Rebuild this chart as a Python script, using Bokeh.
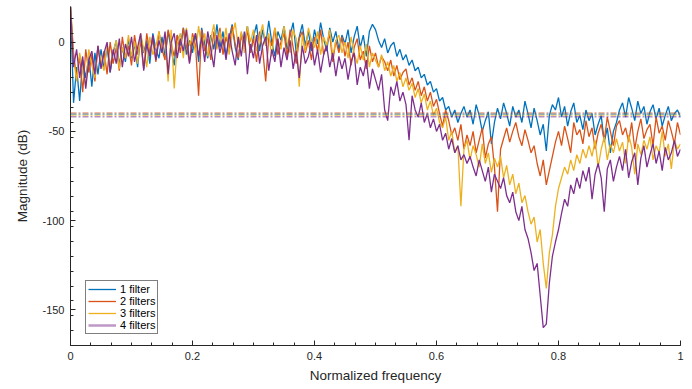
import numpy as np
from bokeh.plotting import figure
from bokeh.models import Range1d, FixedTicker, NumeralTickFormatter, Legend, LegendItem, Span
from bokeh.embed import file_html
from bokeh.resources import INLINE

# frequency grid (normalized), 201 samples
freq = np.linspace(0.0, 1.0, 201)

mag_1 = [20, -34, -14, -33, -10, -20, -8, -25, -6, -18,
         -4, -15, -2, -17, -6, 1, -13, -3, -11, 2,
         -9, -1, -14, 4, -6, 1, -12, 5, -4, -9,
         3, -8, 6, -4, -13, 4, -2, 8, -7, 1,
         -6, 5, -11, 8, -1, -9, 4, -4, 10, -3,
         6, -8, 2, 10, -3, -10, 5, -1, 9, -6,
         3, 10, -5, 7, -2, 12, 0, -8, 6, 1,
         9, -4, 4, 11, -6, 3, 10, -2, 6, -5,
         7, -1, 11, 2, -5, 8, 0, 6, -4, 4,
         -1, 7, -6, 3, 9, -3, 4, -8, 6, 10,
         7, 1, -3, 2, -6, -2, 0, -8, -4, -10,
         -7, -13, -10, -16, -14, -20, -18, -24, -22, -28,
         -26, -33, -31, -38, -36, -42, -38, -45, -40, -36,
         -42, -38, -46, -35, -41, -50, -44, -39, -57, -45,
         -37, -43, -34, -40, -47, -36, -42, -38, -45, -33,
         -40, -48, -37, -44, -52, -46, -61, -41, -35, -38,
         -31, -42, -36, -47, -39, -34, -45, -41, -49, -38,
         -44, -40, -52, -46, -41, -56, -48, -62, -50, -45,
         -38, -34, -42, -31, -37, -44, -33, -40, -36, -46,
         -39, -35, -43, -37, -47, -41, -36, -44, -40, -38,
         -42]

mag_2 = [20, -6, -20, -8, -28, -4, -17, -7, -22, -2,
         -14, -5, -18, 0, -12, -3, -16, 3, -9, -2,
         -13, 4, -7, 0, -15, 5, -6, 2, -11, 6,
         -4, -10, 7, -1, -8, 4, -6, 8, -2, -11,
         5, -2, -30, 7, -5, 2, -10, 6, -3, 8,
         -7, 3, -4, 9, -1, -9, 4, -3, 7, -6,
         2, -11, 6, -4, -22, 3, -2, 8, -7, 0,
         5, -8, 7, -3, -12, 2, 6, -6, 1, -10,
         3, -5, 7, -7, -1, 4, -11, 1, -6, 3,
         -8, 0, -13, -3, 2, -10, -5, -15, -2, -11,
         -6, -14, -8, -11, -16, -10, -19, -13, -21, -17,
         -15, -24, -20, -27, -22, -30, -25, -33, -28, -36,
         -32, -40, -47, -38, -44, -52, -48, -55, -46, -60,
         -52, -58, -50, -62, -55, -48, -65, -57, -53, -70,
         -95, -60, -54, -48, -56, -50, -45, -53, -58, -49,
         -55, -62, -58, -68, -75, -66, -80, -72, -64, -56,
         -50, -58, -47, -54, -62, -45, -52, -49, -57, -44,
         -53, -48, -60, -51, -46, -55, -42, -50, -58, -47,
         -44, -52, -48, -56, -45, -60, -50, -43, -54, -49,
         -46, -58, -42, -51, -47, -55, -44, -50, -57, -45,
         -52]

mag_3 = [20, -8, -22, -6, -16, -25, -4, -13, -20, -3,
         -10, -16, -1, -13, -5, 1, -15, -3, -9, 4,
         -8, 0, -12, 5, -4, -14, 3, -7, -2, 6,
         -6, 2, -22, 7, -26, -1, 5, -9, 8, -2,
         3, -6, 9, -3, 5, -8, 2, 10, -4, 6,
         -2, 8, -7, 4, 11, -3, 6, -6, 9, 0,
         7, -5, 3, 10, -2, 5, -8, 8, 1, -4,
         9, 0, -6, 7, 2, -25, 4, -5, 8, 1,
         -3, 6, -7, 3, -2, 7, -8, 1, 4, -6,
         0, -9, 3, -6, -12, -2, -10, -1, -14, -6,
         -10, -14, -7, -16, -11, -19, -13, -22, -17, -25,
         -20, -27, -23, -31, -26, -34, -29, -38, -33, -41,
         -37, -45, -48, -42, -55, -50, -62, -58, -92, -60,
         -55, -66, -58, -63, -70, -57, -68, -62, -73, -65,
         -70, -64, -76, -69, -80, -74, -85, -79, -90, -86,
         -95, -102, -98, -112, -105, -124, -138, -118, -108, -92,
         -82, -76, -70, -74, -66, -72, -63, -68, -60, -65,
         -58, -64, -55, -70, -60, -53, -66, -57, -62, -54,
         -61, -56, -68, -52, -59, -74, -57, -63, -55, -60,
         -53, -66, -58, -62, -50, -64, -57, -71, -55, -60,
         -57]

mag_4 = [20, -14, -4, -20, -8, -26, -10, -5, -18, -2,
         -15, -6, 0, -17, -4, -12, 2, -14, -1, -8,
         3, -11, -3, 5, -16, -1, -8, 4, -10, 1,
         -6, 6, -18, 0, 5, -9, 2, -5, 7, -12,
         -1, 5, -8, 3, -11, 6, -4, -14, 4, -6,
         2, -10, 5, -5, -13, 3, -8, 6, -18, -1,
         -9, 4, -12, -2, 3, -16, -4, -11, 2, -14,
         -3, -10, 1, -15, -5, -20, -2, -12, -8, 0,
         -13, -4, -17, -7, -2, -14, -6, -19, -8, -15,
         -9, -21, -11, -6, -24, -14, -19, -10, -26, -15,
         -21, -27, -18, -38, -44, -25, -30, -22, -33, -28,
         -35, -55, -30, -38, -42, -34, -45, -40, -48, -43,
         -50, -46, -55, -51, -60, -54, -62, -58, -66, -63,
         -68, -64, -70, -75, -66, -72, -78, -70, -84, -74,
         -78, -82, -76, -86, -90, -84, -95, -100, -92, -105,
         -110, -118, -128, -124, -142, -160, -158, -135, -120, -112,
         -105, -96, -88, -92, -80, -85, -76, -82, -72, -78,
         -70, -88, -74, -68, -76, -95, -71, -66, -78, -70,
         -64, -72, -60, -76, -67, -62, -80, -65, -58, -70,
         -63, -57, -68, -61, -72, -59, -66, -62, -55, -64,
         -60]

thresholds = [-39.7, -40.4, -41.0, -41.8]
thr_colors = ["#D95319", "#0072BD", "#EDB120", "#7E2F8E"]

series_labels = ["1 filter", "2 filters", "3 filters", "4 filters"]
series_colors = ["#0072BD", "#D95319", "#EDB120", "#7E2F8E"]
x_ticks = [0, 0.2, 0.4, 0.6, 0.8, 1.0]
y_ticks = [-150, -100, -50, 0]

FONT = "Liberation Sans"
TXT = "#262626"

p = figure(width=692, height=389, output_backend="svg", toolbar_location=None,
           x_range=Range1d(0, 1), y_range=Range1d(-170, 20))
p.min_border_left = 70
p.min_border_right = 12
p.min_border_top = 6
p.min_border_bottom = 44
p.outline_line_color = None
p.xgrid.visible = False
p.ygrid.visible = False
p.background_fill_color = "white"
p.border_fill_color = "white"

x_minor = [i / 30 for i in range(31)]
y_minor = [-170 + i * 50 / 6 for i in range(int(190 / (50 / 6)) + 1)]
p.xaxis.ticker = FixedTicker(ticks=x_ticks, minor_ticks=x_minor)
p.yaxis.ticker = FixedTicker(ticks=y_ticks, minor_ticks=y_minor)
p.xaxis.formatter = NumeralTickFormatter(format="0.[0]")
p.yaxis.formatter = NumeralTickFormatter(format="0")

for ax in (p.xaxis[0], p.yaxis[0]):
    ax.axis_line_color = TXT
    ax.major_tick_line_color = TXT
    ax.minor_tick_line_color = TXT
    ax.major_tick_in = 5
    ax.major_tick_out = 0
    ax.minor_tick_in = 3
    ax.minor_tick_out = 0
    ax.major_label_text_font = FONT
    ax.major_label_text_font_size = "11px"
    ax.major_label_text_color = TXT
    ax.axis_label_text_font = FONT
    ax.axis_label_text_font_size = "13.5px"
    ax.axis_label_text_font_style = "normal"
    ax.axis_label_text_color = TXT
    ax.major_label_standoff = 6

p.xaxis.axis_label = "Normalized frequency"
p.yaxis.axis_label = "Magnitude (dB)"
p.xaxis.axis_label_standoff = 5
p.yaxis.axis_label_standoff = 9

renderers = []
for ys, c in zip([mag_1, mag_2, mag_3, mag_4], series_colors):
    r = p.line(freq, ys, line_color=c, line_width=1.3)
    renderers.append(r)

for t, c in zip(thresholds, thr_colors):
    p.add_layout(Span(location=t, dimension="width", line_color=c, line_alpha=0.55,
                      line_width=1.5, line_dash="6 2 2 2"))

# legend sample for the 4th entry (light, thick purple), drawn off-range
leg4 = p.line([0, 1], [1000, 1000], line_color="#7E2F8E", line_alpha=0.5, line_width=2.5)

items = [LegendItem(label=series_labels[0], renderers=[renderers[0]]),
         LegendItem(label=series_labels[1], renderers=[renderers[1]]),
         LegendItem(label=series_labels[2], renderers=[renderers[2]]),
         LegendItem(label=series_labels[3], renderers=[leg4])]
legend = Legend(items=items, location=(15, 11))
legend.margin = 0
legend.padding = 2
legend.spacing = 0
legend.glyph_width = 28
legend.glyph_height = 12
legend.label_height = 12
legend.label_standoff = 4
legend.label_text_font = FONT
legend.label_text_font_size = "11px"
legend.label_text_color = "black"
legend.border_line_color = "black"
legend.border_line_width = 1
legend.background_fill_alpha = 1
p.add_layout(legend, "center")

open("out.html", "w").write(file_html(p, INLINE))
